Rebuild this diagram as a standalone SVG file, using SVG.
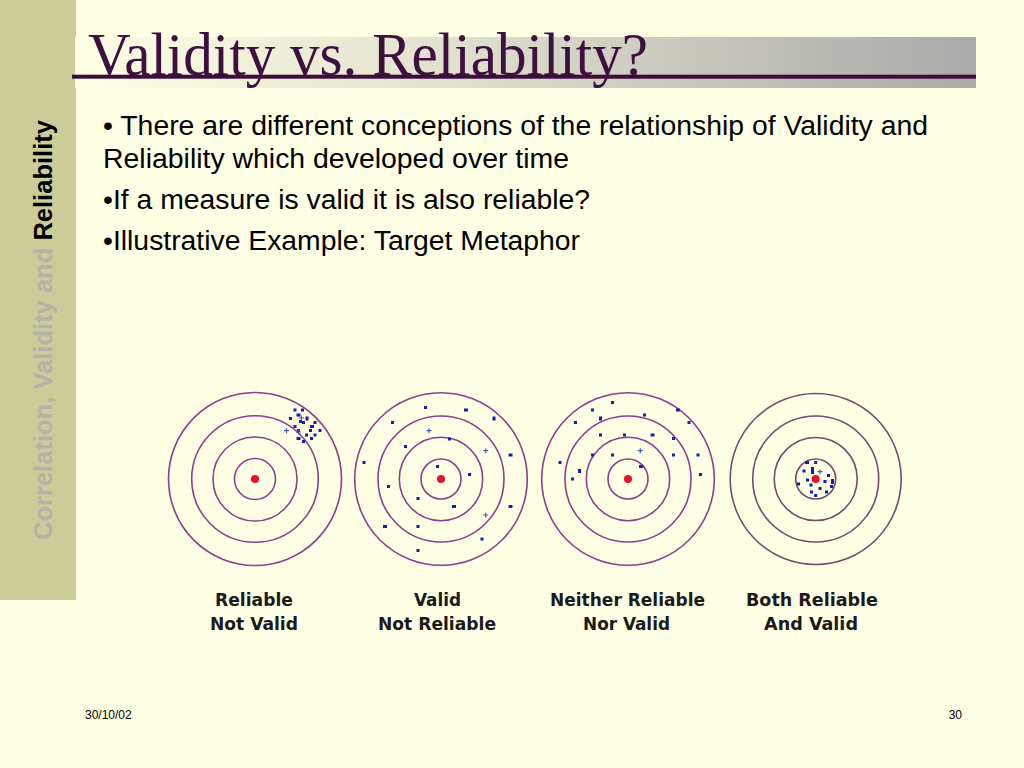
<svg xmlns="http://www.w3.org/2000/svg" width="1024" height="768" viewBox="0 0 1024 768">
<defs>
<linearGradient id="tg" x1="0" y1="0" x2="1" y2="0">
<stop offset="0" stop-color="#FFFFE5"/>
<stop offset="0.35" stop-color="#E6E6D2"/>
<stop offset="1" stop-color="#A9A9A9"/>
</linearGradient>
<style>
.ring{fill:none;stroke:#8E3E8E;stroke-width:1.6}
.ring4{fill:none;stroke:#6E4E6E;stroke-width:1.6}
.bull{fill:#E8102C}
.d{fill:#1A1AB4}
.x{stroke:#4060C0;stroke-width:1.2}
.body{font-family:"Liberation Sans",Arial,sans-serif;font-size:28.4px;fill:#000}
.lab{font-family:"DejaVu Sans Condensed","DejaVu Sans",sans-serif;font-weight:bold;font-size:18px;fill:#1A1A1A;text-anchor:middle}
.foot{font-family:"Liberation Sans",Arial,sans-serif;font-size:12px;fill:#000}
</style>
</defs>
<rect width="1024" height="768" fill="#FFFFE5"/>
<g id="sidebar">
<rect x="0" y="0" width="76" height="600" fill="#CCCC99"/>
<text transform="translate(51.7,540) rotate(-90)" font-family="Liberation Sans,Arial,sans-serif" font-weight="bold" font-size="25.6" textLength="420" lengthAdjust="spacingAndGlyphs"><tspan fill="#B3B3A6">Correlation, Validity and </tspan><tspan fill="#000">Reliability</tspan></text>
</g>
<g id="title">
<rect x="75" y="37" width="901" height="51" fill="url(#tg)"/>
<rect x="72" y="74.7" width="904" height="4" fill="#3A0D3A"/>
<text x="88" y="75" font-family="Liberation Serif,Times New Roman,serif" font-size="62" fill="#3D1040" textLength="560" lengthAdjust="spacingAndGlyphs">Validity vs. Reliability?</text>
</g>
<g id="bullets" class="body">
<text x="103" y="135" textLength="825" lengthAdjust="spacingAndGlyphs">• There are different conceptions of the relationship of Validity and</text>
<text x="103" y="168" textLength="466" lengthAdjust="spacingAndGlyphs">Reliability which developed over time</text>
<text x="103" y="209" textLength="487" lengthAdjust="spacingAndGlyphs">•If a measure is valid it is also reliable?</text>
<text x="103" y="250" textLength="477" lengthAdjust="spacingAndGlyphs">•Illustrative Example: Target Metaphor</text>
</g>
<g id="target1">
<circle class="ring" cx="255" cy="479" r="86.5"/>
<circle class="ring" cx="255" cy="479" r="63.3"/>
<circle class="ring" cx="255" cy="479" r="42"/>
<circle class="ring" cx="255" cy="479" r="20.5"/>
<circle class="bull" cx="255" cy="479" r="4"/>
<g class="d">
<rect x="293.5" y="408.5" width="3" height="3"/><rect x="301" y="408.5" width="3" height="3"/><rect x="296.5" y="413.5" width="4" height="3"/>
<rect x="289" y="417" width="3" height="3"/><rect x="305.5" y="416.5" width="3" height="4"/><rect x="313.5" y="421" width="3" height="3"/>
<rect x="302" y="421" width="3" height="3"/><rect x="293.5" y="425" width="3" height="3"/><rect x="310" y="425" width="4" height="3"/>
<rect x="297" y="429" width="3" height="3"/><rect x="309" y="429" width="3" height="3"/><rect x="318.5" y="429" width="3" height="3"/>
<rect x="305" y="433.5" width="3" height="3"/><rect x="313.5" y="433.5" width="3" height="3"/><rect x="296.5" y="437" width="4" height="3"/>
<rect x="310" y="437" width="3" height="3"/><rect x="302" y="440" width="3" height="3"/><rect x="299" y="420" width="3" height="3"/>
</g>
<path class="x" d="M284,430.7h5M286.5,428.2v5M296,432h5M298.5,429.5v5M299,418h5M301.5,415.5v5"/>
</g>
<g id="target2">
<circle class="ring" cx="441" cy="479" r="86.3"/>
<circle class="ring" cx="441" cy="479" r="63"/>
<circle class="ring" cx="441" cy="479" r="41.7"/>
<circle class="ring" cx="441" cy="479" r="20"/>
<circle class="bull" cx="441" cy="479" r="4"/>
<g class="d">
<rect x="424" y="406" width="3" height="3"/><rect x="464" y="408.5" width="4" height="3"/><rect x="492.5" y="416.5" width="3" height="4"/>
<rect x="391" y="421" width="3" height="3"/><rect x="448" y="437.5" width="3" height="3"/><rect x="404" y="445" width="3" height="3"/>
<rect x="508.5" y="453.5" width="4" height="3"/><rect x="362.5" y="461" width="3" height="3"/><rect x="436" y="465" width="3" height="3"/>
<rect x="468" y="473" width="3" height="3"/><rect x="387" y="485" width="3" height="3"/><rect x="416.5" y="497" width="3" height="3"/>
<rect x="452" y="505" width="4" height="3"/><rect x="508.5" y="505" width="4" height="3"/><rect x="383" y="525" width="4" height="3"/>
<rect x="416.5" y="525" width="3" height="3"/><rect x="480.5" y="537.5" width="3" height="3"/><rect x="416.5" y="549" width="3" height="3"/>
</g>
<path class="x" d="M426.5,430.7h5M429,428.2v5M483.2,450.7h5M485.7,448.2v5M483.2,515h5M485.7,512.5v5"/>
</g>
<g id="target3">
<circle class="ring" cx="628" cy="479" r="86.3"/>
<circle class="ring" cx="628" cy="479" r="63"/>
<circle class="ring" cx="628" cy="479" r="41.7"/>
<circle class="ring" cx="628" cy="479" r="20"/>
<circle class="bull" cx="628" cy="479" r="4"/>
<g class="d">
<rect x="611" y="401" width="3" height="3"/><rect x="591" y="408.5" width="3" height="3"/><rect x="676" y="408.5" width="4" height="3"/>
<rect x="599" y="416.5" width="3" height="4"/><rect x="643" y="413.5" width="3" height="3"/><rect x="687.5" y="421" width="3" height="3"/>
<rect x="574" y="421" width="3" height="3"/><rect x="599" y="433.5" width="3" height="3"/><rect x="623" y="433.5" width="3" height="3"/>
<rect x="650.5" y="433.5" width="4" height="3"/><rect x="672" y="437" width="3" height="3"/><rect x="591" y="453.5" width="3" height="3"/>
<rect x="611" y="453.5" width="3" height="3"/><rect x="672" y="453.5" width="3" height="3"/><rect x="696.5" y="453.5" width="3" height="3"/>
<rect x="558.5" y="461" width="3" height="3"/><rect x="639" y="465" width="4" height="3"/><rect x="578" y="469" width="3" height="4"/>
<rect x="699" y="473" width="3" height="3"/><rect x="571" y="477.5" width="3" height="3"/>
</g>
<path class="x" d="M637.8,450.7h5M640.3,448.2v5"/>
</g>
<g id="target4">
<circle class="ring4" cx="815.7" cy="479" r="85.5"/>
<circle class="ring4" cx="815.7" cy="479" r="63"/>
<circle class="ring4" cx="815.7" cy="479" r="41.5"/>
<circle class="ring4" cx="815.7" cy="479" r="20"/>
<circle class="bull" cx="815.7" cy="479" r="4"/>
<g class="d">
<rect x="805" y="461" width="4" height="3"/><rect x="814.2" y="461" width="3" height="3"/><rect x="802.5" y="469.5" width="3" height="3"/>
<rect x="811" y="467" width="3" height="7"/><rect x="827" y="474" width="3" height="3"/><rect x="806" y="478.5" width="3" height="3"/>
<rect x="823.5" y="480" width="3" height="3"/><rect x="831" y="479" width="3" height="5"/><rect x="797" y="482.5" width="3" height="3"/>
<rect x="809.5" y="483.5" width="3" height="3"/><rect x="818.5" y="487" width="3" height="3"/><rect x="830" y="485" width="3" height="3"/>
<rect x="825" y="490.5" width="3" height="3"/><rect x="810" y="490.5" width="3" height="3"/><rect x="814.2" y="494" width="3" height="3"/>
</g>
<path class="x" d="M817.5,471.7h5M820,469.2v5"/>
</g>
<g id="labels" class="lab">
<text x="254" y="606" textLength="78" lengthAdjust="spacingAndGlyphs">Reliable</text><text x="254" y="630" textLength="88" lengthAdjust="spacingAndGlyphs">Not Valid</text>
<text x="437.5" y="606" textLength="47" lengthAdjust="spacingAndGlyphs">Valid</text><text x="437" y="630" textLength="118" lengthAdjust="spacingAndGlyphs">Not Reliable</text>
<text x="627.5" y="606" textLength="155" lengthAdjust="spacingAndGlyphs">Neither Reliable</text><text x="626.5" y="630" textLength="87" lengthAdjust="spacingAndGlyphs">Nor Valid</text>
<text x="812" y="606" textLength="132" lengthAdjust="spacingAndGlyphs">Both Reliable</text><text x="811" y="630" textLength="94" lengthAdjust="spacingAndGlyphs">And Valid</text>
</g>
<g id="footer" class="foot">
<text x="85" y="719">30/10/02</text>
<text x="962" y="719" text-anchor="end">30</text>
</g>
</svg>
